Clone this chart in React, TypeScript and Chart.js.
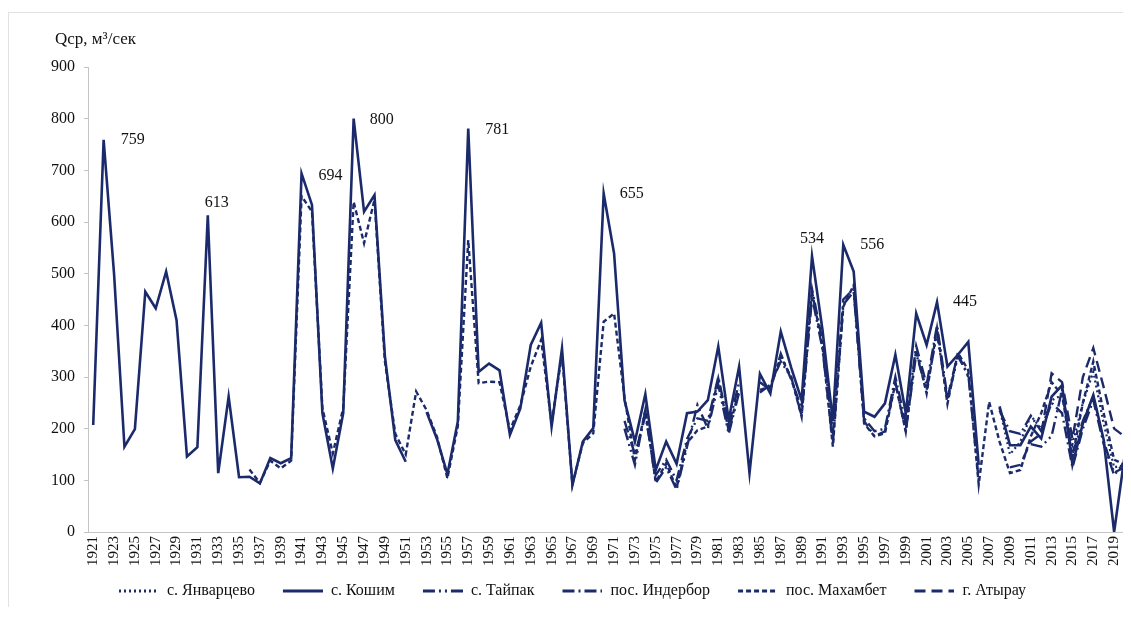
import React, { useEffect, useRef } from 'react';
import { Chart, registerables } from 'chart.js';

Chart.register(...registerables);

// Categories: years 1921..2021
const FIRST_YEAR = 1921;
const LAST_YEAR = 2021;
const YEARS: string[] = [];
for (let y = FIRST_YEAR; y <= LAST_YEAR; y++) YEARS.push(String(y));

const Y_MIN = 0;
const Y_MAX = 900;
const Y_STEP = 100;

const AXIS_TITLE = 'Qср, м³/сек';

const SERIES_NAMES = ['с. Январцево', 'с. Кошим', 'с. Тайпак', 'пос. Индербор', 'пос. Махамбет', 'г. Атырау'];

// с. Кошим (solid), from 1921
const KOSHIM_START = 1921;
const KOSHIM = [
  207, 759, 500, 165, 199, 465, 433, 504, 410, 146,
  164, 613, 114, 262, 106, 107, 94, 143, 133, 143,
  694, 633, 230, 123, 230, 800, 620, 652, 340, 178,
  136, null, 232, 180, 112, 214, 781, 310, 326, 313,
  188, 239, 362, 405, 204, 355, 91, 175, 201, 655,
  539, 255, 175, 267, 120, 175, 132, 230, 233, 255,
  359, 217, 320, 114, 306, 268, 388, 318, 255, 534,
  392, 215, 556, 504, 233, 223, 249, 343, 230, 423,
  362, 445, 320, 343, 368, 130, null, 243, 168, 168,
  204, 181, 262, 284, 130, 210, 265, 178, 0, 146,
  100,
];

// пос. Махамбет (short dashes), from 1936
const MAKHAMBET_START = 1936;
const MAKHAMBET = [
  121, 95, 138, 123, 138,
  650, 620, 240, 152, 240, 639, 559, 643, 330, 190,
  150, 272, 236, 184, 104, 205, 565, 288, 291, 290,
  197, 245, 320, 372, 210, 345, 92, 172, 191, 407,
  423, 260, 140, 236, 97, 133, 85, 172, 197, 204,
  297, 196, 275, null, 275, 281, 339, 300, 223, 465,
  360, 165, 436, 478, 210, 185, 191, 288, 194, 352,
  268, 394, 248, 347, 313, 92, 252, 175, 114, 120,
  185, 230, 290, 265, 145, 250, 330, 230, 140, 130,
  125,
];

// с. Тайпак (dash-dot-dot), from 1972
const TAIPAK_START = 1972;
const TAIPAK = [
  200, 130, 236, 95, 125, 82, 165, 246, 200,
  285, 190, 270, null, 270, 285, 330, 300, 225, 455,
  355, 172, 440, 465, 215, 185, 195, 290, 195, 345,
  275, 385, 255, 340, 305, 100, null, null, null, null,
  170, 165, 186, 275, 150, 215, 262, 175, 115, 125,
  120,
];

// пос. Индербор (dash-dot), from 1972
const INDERBOR_START = 1972;
const INDERBOR = [
  215, 150, 225, 110, 140, 100, 180, 220, 215,
  300, 205, 290, null, 290, 275, 345, 295, 240, 470,
  370, 190, 450, 470, 220, 195, 200, 300, 210, 360,
  285, 400, 260, 345, 300, null, null, 235, 195, 190,
  225, 195, 250, 230, 125, 200, 255, 170, 110, 135,
  120,
];

// с. Январцево (dotted), from 2008
const YANVARTSEVO_START = 2008;
const YANVARTSEVO = [
  240, 150, 175,
  225, 200, 255, 265, 170, 250, 310, 210, 125, 130,
  125,
];

// г. Атырау (long dashes), from 2009
const ATYRAU_START = 2009;
const ATYRAU = [
  125, 130,
  175, 190, 307, 290, 180, 300, 356, 280, 200, 185,
  165,
];

// Labelled peaks of с. Кошим
const PEAK_YEARS = [1922, 1932, 1941, 1946, 1957, 1970, 1990, 1993, 2002];
const PEAK_TEXTS = ['759', '613', '694', '800', '781', '655', '534', '556', '445'];
const PEAK_OFFSETS = [[17, 0], [-3, -12], [17, 2], [16, 1], [17, 1], [16, 0], [-12, -17], [17, 0], [16, 0]];

const DASHES = [[2, 3], [], [12, 4, 2, 4, 2, 4], [12, 4, 2, 4], [5, 3], [11, 6]];

const COLOR = '#1b2a6b';
const FONT = 'Liberation Serif';

// legend sample geometry (style only)
const SAMPLE_W = 57;
const SAMPLE_LINE = 40;
const LEGEND_SHIFT = -16;

function toPoints(start: number, values: (number | null)[]) {
  return values.map((v, i) => ({ x: String(start + i), y: v }));
}

function makeSample(dash: number[]) {
  const c = document.createElement('canvas');
  c.width = SAMPLE_W;
  c.height = 6;
  const g = c.getContext('2d')!;
  g.strokeStyle = COLOR;
  g.lineWidth = 3;
  g.setLineDash(dash);
  g.beginPath();
  g.moveTo(SAMPLE_W - SAMPLE_LINE, 3);
  g.lineTo(SAMPLE_W, 3);
  g.stroke();
  return c;
}

const titlePlugin = {
  id: 'axisTitle',
  afterDraw(chart: any) {
    const { ctx, chartArea } = chart;
    ctx.save();
    ctx.font = `17px "${FONT}"`;
    ctx.fillStyle = '#111';
    ctx.textBaseline = 'middle';
    ctx.textAlign = 'left';
    ctx.fillText(AXIS_TITLE, chartArea.left - 33, chartArea.top - 27);
    ctx.restore();
  },
};

const legendShiftPlugin = {
  id: 'legendShift',
  afterLayout(chart: any) {
    if (chart.legend) {
      chart.legend.left += LEGEND_SHIFT;
      chart.legend.right += LEGEND_SHIFT;
    }
  },
};

const peakPlugin = {
  id: 'peakLabels',
  afterDatasetsDraw(chart: any) {
    const { ctx } = chart;
    const xs = chart.scales.x;
    const ys = chart.scales.y;
    ctx.save();
    ctx.font = `16px "${FONT}"`;
    ctx.fillStyle = '#111';
    ctx.textBaseline = 'middle';
    ctx.textAlign = 'left';
    PEAK_YEARS.forEach((yr, i) => {
      const v = KOSHIM[yr - KOSHIM_START] as number;
      const px = xs.getPixelForValue(yr - FIRST_YEAR);
      const py = ys.getPixelForValue(v);
      const [dx, dy] = PEAK_OFFSETS[i];
      ctx.fillText(PEAK_TEXTS[i], px + dx, py + dy);
    });
    ctx.restore();
  },
};

export default function App() {
  const ref = useRef<HTMLCanvasElement | null>(null);

  useEffect(() => {
    if (!ref.current) return;
    const samples = DASHES.map((d) => makeSample(d));
    const mk = (i: number, data: any[], width: number) => ({
      label: SERIES_NAMES[i],
      data,
      borderColor: COLOR,
      backgroundColor: COLOR,
      borderWidth: width,
      borderDash: DASHES[i],
      pointRadius: 0,
      fill: false,
      tension: 0,
      spanGaps: false,
    });
    const chart = new Chart(ref.current, {
      type: 'line',
      data: {
        labels: YEARS,
        datasets: [
          mk(0, toPoints(YANVARTSEVO_START, YANVARTSEVO), 2.2),
          mk(1, toPoints(KOSHIM_START, KOSHIM), 2.6),
          mk(2, toPoints(TAIPAK_START, TAIPAK), 2.4),
          mk(3, toPoints(INDERBOR_START, INDERBOR), 2.4),
          mk(4, toPoints(MAKHAMBET_START, MAKHAMBET), 2.4),
          mk(5, toPoints(ATYRAU_START, ATYRAU), 2.4),
        ],
      },
      options: {
        animation: false,
        responsive: false,
        maintainAspectRatio: false,
        devicePixelRatio: 1,
        layout: { padding: { left: 0, right: 6, top: 54, bottom: 2 } },
        scales: {
          x: {
            type: 'category',
            offset: true,
            grid: { display: false, drawTicks: false },
            border: { color: '#c4c4c4', width: 1 },
            ticks: {
              autoSkip: false,
              maxRotation: 90,
              minRotation: 90,
              padding: 4,
              color: '#111',
              font: { family: FONT, size: 15 },
              callback: (_v: any, i: number) => (i % 2 === 0 ? YEARS[i] : ''),
            },
            afterFit: (s: any) => { s.height = 40; },
          },
          y: {
            min: Y_MIN,
            max: Y_MAX,
            ticks: {
              stepSize: Y_STEP,
              padding: 9,
              color: '#111',
              font: { family: FONT, size: 16 },
            },
            grid: { drawOnChartArea: false, tickLength: 4, color: '#c4c4c4' },
            border: { color: '#c4c4c4', width: 1 },
            afterFit: (s: any) => { s.width = 79; },
          },
        },
        plugins: {
          legend: {
            position: 'bottom',
            labels: {
              usePointStyle: true,
              pointStyleWidth: SAMPLE_W,
              padding: 11,
              color: '#111',
              font: { family: FONT, size: 16 },
              generateLabels: (c: any) => {
                const items = (Chart as any).defaults.plugins.legend.labels.generateLabels(c);
                items.forEach((it: any, i: number) => {
                  it.pointStyle = samples[i];
                });
                return items;
              },
            },
          },
          tooltip: { enabled: false },
        },
      },
      plugins: [titlePlugin, peakPlugin, legendShiftPlugin],
    } as any);
    return () => chart.destroy();
  }, []);

  return (
    <div
      style={{
        position: 'relative',
        top: 4,
        width: 1123,
        height: 599,
        boxSizing: 'border-box',
        overflow: 'hidden',
        borderTop: '1px solid #e2e2e2',
        borderLeft: '1px solid #e2e2e2',
        background: '#fff',
      }}
    >
      <canvas ref={ref} width={1148} height={598} style={{ display: 'block', width: 1148, height: 598 }} />
    </div>
  );
}
